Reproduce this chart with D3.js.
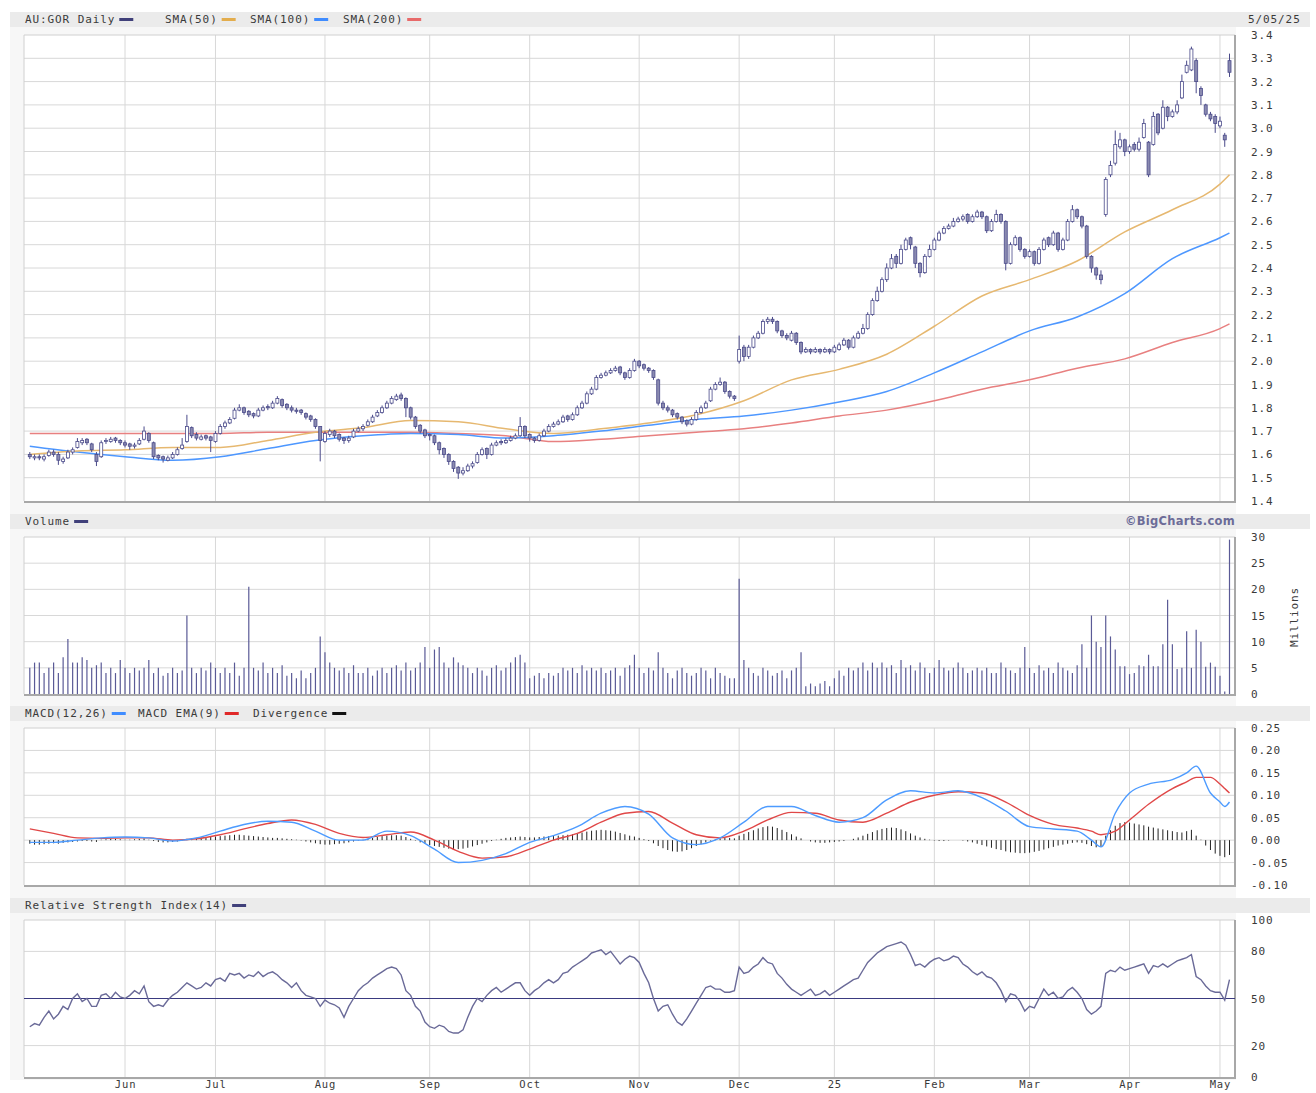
<!DOCTYPE html>
<html lang="en">
<head>
<meta charset="UTF-8">
<title>AU:GOR Daily</title>
<script src="https://d3js.org/d3.v7.min.js"></script>
<style>
  body { margin: 0; background: #fff; }
  text { font-family: "DejaVu Sans Mono", monospace; font-size: 11px; fill: #3a3a3a; letter-spacing: 0.9px; }
</style>
</head>
<body>
<svg width="1316" height="1093" id="mainsvg"></svg>
<script>
// ---- data (one value per ASX trading day, 6 May 2024 .. 5 May 2025) ----
const opens = [
  1.60,1.585,1.59,1.58,1.595,1.61,1.60,1.57,1.585,1.61,
  1.63,1.65,1.665,1.645,1.60,1.59,1.655,1.655,1.67,1.66,
  1.65,1.645,1.635,1.645,1.665,1.69,1.65,1.595,1.59,1.575,
  1.585,1.60,1.625,1.655,1.715,1.685,1.665,1.68,1.675,1.655,
  1.69,1.72,1.735,1.755,1.79,1.80,1.785,1.775,1.765,1.79,
  1.805,1.80,1.82,1.835,1.815,1.80,1.79,1.79,1.775,1.765,
  1.75,1.72,1.655,1.685,1.70,1.685,1.67,1.66,1.675,1.70,
  1.71,1.725,1.74,1.765,1.78,1.80,1.82,1.835,1.855,1.84,
  1.80,1.76,1.725,1.705,1.685,1.68,1.65,1.625,1.60,1.57,
  1.545,1.52,1.53,1.55,1.565,1.60,1.625,1.60,1.64,1.655,
  1.65,1.66,1.67,1.68,1.72,1.685,1.67,1.66,1.68,1.70,
  1.72,1.73,1.74,1.765,1.75,1.77,1.80,1.82,1.86,1.88,
  1.93,1.94,1.95,1.96,1.975,1.95,1.93,1.96,2.00,1.985,
  1.97,1.96,1.92,1.82,1.80,1.79,1.775,1.76,1.745,1.73,
  1.75,1.78,1.80,1.83,1.88,1.90,1.91,1.87,1.85,2.00,
  2.06,2.02,2.06,2.10,2.12,2.17,2.18,2.17,2.13,2.11,
  2.09,2.12,2.08,2.04,2.05,2.04,2.05,2.04,2.05,2.04,
  2.05,2.07,2.09,2.06,2.10,2.12,2.14,2.20,2.26,2.30,
  2.35,2.40,2.45,2.42,2.48,2.53,2.49,2.42,2.38,2.45,
  2.48,2.52,2.55,2.57,2.58,2.60,2.61,2.63,2.60,2.62,
  2.64,2.62,2.56,2.60,2.63,2.60,2.42,2.50,2.53,2.48,
  2.45,2.47,2.42,2.48,2.53,2.50,2.55,2.48,2.52,2.60,
  2.65,2.62,2.58,2.45,2.40,2.37,2.63,2.80,2.85,2.92,
  2.95,2.90,2.93,2.91,2.96,2.94,2.93,3.06,3.00,3.09,
  3.05,3.07,3.13,3.24,3.25,3.29,3.17,3.10,3.06,3.05,
  3.01,2.97,3.29
]
const highs = [
  1.61,1.60,1.60,1.60,1.62,1.62,1.61,1.59,1.62,1.63,
  1.67,1.67,1.67,1.65,1.61,1.66,1.67,1.675,1.675,1.665,
  1.66,1.65,1.65,1.67,1.72,1.695,1.655,1.60,1.595,1.595,
  1.61,1.63,1.67,1.77,1.72,1.695,1.685,1.685,1.68,1.70,
  1.73,1.745,1.76,1.80,1.815,1.805,1.79,1.78,1.80,1.81,
  1.815,1.83,1.85,1.84,1.82,1.81,1.80,1.795,1.78,1.77,
  1.755,1.72,1.70,1.71,1.705,1.69,1.675,1.68,1.71,1.72,
  1.73,1.75,1.77,1.79,1.81,1.83,1.85,1.86,1.865,1.845,
  1.805,1.765,1.73,1.71,1.69,1.685,1.655,1.63,1.605,1.575,
  1.55,1.545,1.56,1.57,1.61,1.63,1.63,1.65,1.66,1.665,
  1.67,1.68,1.69,1.76,1.725,1.69,1.675,1.69,1.71,1.73,
  1.74,1.75,1.77,1.77,1.78,1.81,1.83,1.87,1.89,1.94,
  1.95,1.96,1.97,1.98,1.98,1.955,1.97,2.01,2.005,1.99,
  1.975,1.965,1.925,1.83,1.81,1.795,1.78,1.765,1.75,1.76,
  1.79,1.81,1.83,1.89,1.91,1.93,1.915,1.875,1.855,2.11,
  2.07,2.07,2.11,2.13,2.18,2.19,2.19,2.175,2.135,2.12,
  2.13,2.125,2.085,2.06,2.055,2.06,2.055,2.06,2.055,2.07,
  2.08,2.10,2.095,2.11,2.13,2.16,2.21,2.27,2.32,2.36,
  2.42,2.46,2.46,2.50,2.53,2.535,2.495,2.425,2.46,2.50,
  2.53,2.56,2.58,2.59,2.615,2.62,2.63,2.635,2.63,2.65,
  2.645,2.625,2.61,2.65,2.635,2.605,2.51,2.54,2.535,2.485,
  2.48,2.475,2.49,2.53,2.535,2.56,2.555,2.53,2.61,2.67,
  2.655,2.625,2.585,2.455,2.405,2.39,2.79,2.86,2.99,2.98,
  2.955,2.93,2.94,2.96,3.04,2.945,3.07,3.065,3.12,3.095,
  3.08,3.12,3.23,3.29,3.35,3.30,3.18,3.105,3.07,3.06,
  3.05,2.98,3.32
]
const lows = [
  1.58,1.575,1.575,1.57,1.59,1.59,1.555,1.56,1.58,1.60,
  1.625,1.64,1.64,1.61,1.55,1.585,1.645,1.65,1.65,1.64,
  1.63,1.62,1.625,1.64,1.66,1.65,1.58,1.575,1.565,1.57,
  1.58,1.595,1.62,1.65,1.67,1.66,1.66,1.66,1.61,1.65,
  1.685,1.71,1.73,1.75,1.785,1.77,1.76,1.755,1.76,1.785,
  1.79,1.795,1.815,1.80,1.79,1.78,1.775,1.77,1.75,1.74,
  1.71,1.57,1.65,1.675,1.67,1.655,1.645,1.65,1.67,1.695,
  1.70,1.72,1.735,1.76,1.775,1.795,1.815,1.83,1.83,1.76,
  1.75,1.71,1.69,1.67,1.66,1.64,1.60,1.585,1.555,1.525,
  1.495,1.51,1.525,1.54,1.56,1.595,1.58,1.595,1.635,1.64,
  1.645,1.655,1.665,1.675,1.67,1.655,1.65,1.655,1.675,1.695,
  1.715,1.725,1.735,1.74,1.745,1.765,1.795,1.815,1.855,1.875,
  1.925,1.935,1.945,1.955,1.94,1.92,1.925,1.955,1.97,1.96,
  1.95,1.92,1.81,1.79,1.78,1.76,1.75,1.73,1.72,1.725,
  1.745,1.775,1.795,1.825,1.875,1.895,1.86,1.84,1.83,1.99,
  2.00,2.01,2.055,2.095,2.115,2.16,2.16,2.12,2.10,2.09,
  2.085,2.07,2.03,2.035,2.03,2.035,2.03,2.035,2.03,2.035,
  2.045,2.065,2.05,2.055,2.095,2.115,2.135,2.195,2.255,2.295,
  2.34,2.395,2.40,2.415,2.475,2.48,2.40,2.36,2.375,2.445,
  2.475,2.515,2.545,2.565,2.575,2.595,2.60,2.59,2.595,2.615,
  2.61,2.55,2.555,2.595,2.59,2.39,2.415,2.495,2.47,2.44,
  2.445,2.41,2.415,2.475,2.49,2.495,2.47,2.475,2.515,2.595,
  2.61,2.57,2.44,2.38,2.35,2.33,2.62,2.79,2.84,2.91,
  2.88,2.89,2.90,2.90,2.955,2.79,2.925,2.97,2.995,3.03,
  3.045,3.06,3.125,3.235,3.245,3.15,3.10,3.05,3.03,2.98,
  3.00,2.92,3.22
]
const closes = [
  1.59,1.59,1.585,1.59,1.61,1.60,1.575,1.58,1.61,1.62,
  1.655,1.66,1.65,1.62,1.57,1.65,1.66,1.665,1.66,1.65,
  1.64,1.635,1.64,1.66,1.70,1.66,1.59,1.585,1.58,1.585,
  1.60,1.62,1.64,1.72,1.68,1.67,1.675,1.67,1.66,1.69,
  1.72,1.735,1.75,1.79,1.80,1.78,1.77,1.765,1.79,1.80,
  1.80,1.82,1.84,1.81,1.80,1.79,1.785,1.78,1.76,1.75,
  1.72,1.66,1.69,1.70,1.68,1.665,1.66,1.67,1.70,1.71,
  1.72,1.74,1.76,1.78,1.80,1.82,1.84,1.85,1.84,1.80,
  1.76,1.72,1.70,1.68,1.68,1.65,1.62,1.60,1.57,1.54,
  1.52,1.53,1.55,1.56,1.60,1.62,1.60,1.64,1.65,1.65,
  1.66,1.67,1.68,1.72,1.68,1.67,1.66,1.68,1.70,1.72,
  1.73,1.74,1.76,1.75,1.77,1.80,1.82,1.86,1.88,1.93,
  1.94,1.95,1.96,1.97,1.95,1.93,1.96,2.00,1.98,1.97,
  1.96,1.93,1.82,1.80,1.79,1.77,1.76,1.74,1.73,1.75,
  1.78,1.80,1.82,1.88,1.90,1.91,1.87,1.85,1.84,2.05,
  2.02,2.06,2.10,2.12,2.17,2.18,2.17,2.13,2.11,2.10,
  2.12,2.08,2.04,2.05,2.04,2.05,2.04,2.05,2.04,2.06,
  2.07,2.09,2.06,2.10,2.12,2.14,2.20,2.26,2.30,2.35,
  2.40,2.44,2.42,2.48,2.52,2.50,2.42,2.38,2.45,2.48,
  2.52,2.55,2.57,2.58,2.60,2.61,2.62,2.60,2.62,2.64,
  2.62,2.56,2.60,2.63,2.60,2.42,2.50,2.53,2.48,2.45,
  2.47,2.42,2.48,2.52,2.50,2.55,2.48,2.52,2.60,2.65,
  2.62,2.58,2.45,2.40,2.37,2.35,2.78,2.84,2.93,2.95,
  2.90,2.92,2.91,2.94,3.02,2.80,3.05,2.98,3.09,3.05,
  3.07,3.10,3.20,3.27,3.34,3.20,3.14,3.06,3.04,3.02,
  3.03,2.95,3.24
]
// volume, millions
const volumes = [
  5,6,6,4,5,6,4,7,10.5,6,
  6,7,6.5,5,5.5,6,4,5,4,6.5,
  5,4,5,4.5,5,6.5,4,5,3.5,4,
  5,4,4.5,15,5,4,5,4.5,6,5,
  4,5,4,6,3.5,5,20.5,5,4.5,6,
  4,5,4,5.5,3.5,4,3,4.5,3,4,
  5,11,8,6,5,4.5,5,4,5.5,4,
  4,5,3.5,4.5,5,4,5,5.5,4.5,6,
  4.5,5,6,9,5,8.5,9,6,5,7,
  6,5.5,5,4,5,4.5,3.5,5,5.5,4.5,
  5,6,7,7.5,6,3,3.5,4,3,4,
  3.5,4,5,4.5,5,4,5.5,4.5,5,4.5,
  5,4,4.5,5,3.5,5,5.5,7.5,5,4,
  5,4.5,8,5,4,3,4.5,5,4,3.5,
  4,5,4.5,3,5,4,3.5,3,3,22,
  6.5,5,4,3.5,5,4.5,3.5,4,4.5,3,
  4.5,5,8,1.5,2,1.5,2,2.5,1.5,3,
  4.5,3.5,5,4.5,5,6,4.5,6,5,6,
  5,5.5,4,6.5,5,5.5,4.5,6,5,4,
  5,6.5,5,4.5,5,6,5,4,4.5,5,
  4.5,5,4,4,6,5,4.5,4,5,9,
  5,4,5.5,4.5,5,4,6,5,4.5,4,
  5.5,9.5,5,15,10,9,15,11,8.5,5.3,
  5.3,3.8,4,5.5,5.3,7.5,5.3,5.3,9.5,18,
  9.5,4.8,5,12,5,12.3,10,5.2,6,5.2,
  3.5,0.5,29.5
]
// MACD divergence histogram
const divergence = [
  -0.008,-0.01,-0.01,-0.009,-0.008,-0.007,-0.008,-0.006,-0.005,-0.004,
  -0.003,-0.002,-0.002,-0.003,-0.004,0.001,0.002,0.003,0.003,0.002,
  0.001,0.001,0.002,0.003,0.004,0.001,-0.002,-0.004,-0.005,-0.005,
  -0.004,-0.003,-0.001,0.003,0.004,0.005,0.006,0.007,0.007,0.008,
  0.009,0.010,0.011,0.012,0.012,0.011,0.010,0.009,0.008,0.007,
  0.006,0.005,0.005,0.004,0.003,0.002,0.001,-0.001,-0.003,-0.005,
  -0.007,-0.009,-0.010,-0.010,-0.009,-0.008,-0.007,-0.005,-0.003,-0.001,
  0.001,0.003,0.005,0.007,0.009,0.010,0.011,0.011,0.010,0.007,
  0.003,-0.001,-0.005,-0.008,-0.011,-0.013,-0.015,-0.017,-0.019,-0.020,
  -0.020,-0.019,-0.017,-0.014,-0.011,-0.008,-0.005,-0.002,0.001,0.003,
  0.005,0.006,0.007,0.008,0.007,0.006,0.006,0.007,0.008,0.009,
  0.010,0.010,0.011,0.012,0.013,0.015,0.017,0.019,0.021,0.022,
  0.023,0.022,0.021,0.019,0.016,0.013,0.010,0.008,0.005,0.002,
  -0.002,-0.007,-0.013,-0.018,-0.022,-0.025,-0.026,-0.025,-0.022,-0.018,
  -0.013,-0.009,-0.005,-0.001,0.002,0.004,0.005,0.005,0.004,0.010,
  0.014,0.018,0.022,0.026,0.029,0.031,0.030,0.027,0.023,0.018,
  0.013,0.008,0.004,0.000,-0.003,-0.005,-0.006,-0.006,-0.005,-0.004,
  -0.003,-0.002,0.000,0.003,0.006,0.010,0.014,0.018,0.022,0.025,
  0.027,0.028,0.027,0.024,0.020,0.015,0.010,0.006,0.003,0.001,
  -0.001,-0.002,-0.002,-0.001,0.000,0.000,-0.001,-0.003,-0.005,-0.008,
  -0.011,-0.014,-0.017,-0.020,-0.022,-0.025,-0.027,-0.028,-0.029,-0.029,
  -0.028,-0.026,-0.024,-0.021,-0.018,-0.015,-0.012,-0.010,-0.008,-0.006,
  -0.005,-0.006,-0.009,-0.013,-0.016,-0.015,0.010,0.022,0.032,0.038,
  0.040,0.039,0.037,0.035,0.033,0.030,0.028,0.026,0.024,0.022,
  0.020,0.018,0.017,0.020,0.023,0.010,0.001,-0.012,-0.022,-0.030,
  -0.035,-0.038,-0.033
]
const rsi = [
  32,34,33,38,42,37,40,45,43,50,
  53,48,50,45,45,52,53,50,54,51,
  50,52,55,53,58,48,45,46,45,49,
  52,54,57,60,58,56,57,60,58,62,
  63,61,66,65,66,63,65,64,67,64,
  66,67,65,62,60,57,60,55,52,51,
  50,45,49,47,46,44,38,45,50,55,
  58,60,63,65,67,69,70,69,65,55,
  52,45,42,35,32,31,33,32,29,28,
  28,30,38,45,50,48,52,55,57,54,
  56,58,60,60,55,52,55,57,60,62,
  60,62,66,67,70,72,74,76,79,80,
  81,78,80,76,72,75,77,76,73,66,
  60,50,42,45,46,40,35,33,37,42,
  47,52,57,58,56,56,54,54,55,70,
  66,67,70,72,76,73,72,66,63,59,
  56,54,52,54,56,52,53,55,52,54,
  56,58,60,62,63,68,73,76,79,81,
  83,84,85,86,84,78,71,72,70,73,
  75,76,74,75,77,76,72,70,67,65,
  67,64,63,60,55,48,53,52,48,42,
  45,44,50,56,52,54,50,51,55,57,
  54,50,43,40,42,45,66,68,67,70,
  68,69,70,71,72,66,71,70,72,70,
  72,74,75,76,78,64,62,58,55,54,
  54,49,62
]

// moving averages, read every 10 trading days
const smaDays = [0,10,20,30,40,50,60,70,80,90,100,110,120,130,140,150,160,170,180,190,200,210,220,230,240,250,252]
const sma50  = [1.60,1.615,1.62,1.63,1.63,1.66,1.695,1.715,1.745,1.74,1.71,1.69,1.71,1.735,1.77,1.83,1.92,1.965,2.03,2.15,2.28,2.35,2.43,2.555,2.65,2.76,2.80]
const sma100 = [1.635,1.61,1.59,1.575,1.59,1.625,1.66,1.68,1.69,1.685,1.67,1.68,1.70,1.725,1.75,1.765,1.79,1.825,1.87,1.95,2.04,2.13,2.19,2.29,2.44,2.53,2.55]
const sma200 = [1.69,1.69,1.69,1.69,1.69,1.695,1.695,1.695,1.695,1.69,1.68,1.655,1.665,1.68,1.695,1.71,1.735,1.765,1.79,1.83,1.88,1.92,1.97,2.01,2.08,2.14,2.16]

// MACD line and its EMA(9)
const macdDays = [0,5,10,15,20,25,30,35,40,45,50,55,60,65,70,75,80,85,90,95,100,105,110,115,120,125,130,135,140,145,150,155,160,165,170,175,180,185,190,195,200,205,210,215,220,223,225,228,231,235,240,243,245,248,250,251,252]
const macdLine = [-0.005,-0.005,0.0,0.005,0.007,0.005,-0.002,0.005,0.02,0.035,0.042,0.04,0.02,0.0,0.0,0.02,0.01,-0.02,-0.05,-0.045,-0.03,-0.005,0.01,0.03,0.06,0.075,0.058,0.005,-0.01,0.005,0.04,0.075,0.075,0.055,0.04,0.05,0.09,0.11,0.105,0.11,0.095,0.065,0.03,0.025,0.02,0.0,-0.015,0.06,0.105,0.125,0.135,0.15,0.165,0.105,0.085,0.075,0.085]
const macdSignal = [0.025,0.015,0.005,0.004,0.005,0.005,0.0,0.003,0.012,0.025,0.037,0.045,0.035,0.015,0.006,0.012,0.018,0.0,-0.025,-0.04,-0.037,-0.02,0.0,0.015,0.04,0.06,0.064,0.038,0.012,0.005,0.02,0.045,0.062,0.06,0.045,0.04,0.06,0.085,0.10,0.108,0.105,0.085,0.055,0.035,0.027,0.02,0.012,0.02,0.045,0.08,0.115,0.13,0.14,0.14,0.125,0.115,0.105]

// axis ticks
const monthDays = [20,39,62,84,105,128,149,169,190,210,231,250]
const monthLabels = ['Jun','Jul','Aug','Sep','Oct','Nov','Dec','25','Feb','Mar','Apr','May']
const priceTicks = [1.4,1.5,1.6,1.7,1.8,1.9,2.0,2.1,2.2,2.3,2.4,2.5,2.6,2.7,2.8,2.9,3.0,3.1,3.2,3.3,3.4]
const volTicks = [0,5,10,15,20,25,30]
const macdTicks = [-0.10,-0.05,0,0.05,0.10,0.15,0.20,0.25]
const rsiTicks = [0,20,50,80,100]

// ---- layout ----
const svg = d3.select("#mainsvg")
const plotL = 24, plotR = 1235
const navy = '#4a4a8a'
const x = d3.scaleLinear().domain([0, closes.length - 1]).range([29.8, 1229.5])

svg.append('rect').attr('x', 10).attr('y', 27).attr('width', plotR - 10 + 1).attr('height', 1053).attr('fill', '#f7f7f7')

function panel(top, bottom, head, domain, ticks, fmt) {
    const y = d3.scaleLinear().domain(domain).range([bottom, top])
    svg.append('rect').attr('x', 10).attr('y', head).attr('width', 1300).attr('height', 15).attr('fill', '#ebebeb')
    svg.append('rect').attr('x', plotL).attr('y', top).attr('width', plotR - plotL).attr('height', bottom - top).attr('fill', '#fff')
    const g = svg.append('g')
    g.selectAll('.hg').data(ticks.slice(1, -1)).join('line')
        .attr('x1', plotL).attr('x2', plotR).attr('y1', d => y(d)).attr('y2', d => y(d))
        .attr('stroke', '#d8d8d8').attr('stroke-width', 1)
    g.selectAll('.vg').data(monthDays).join('line')
        .attr('x1', d => x(d)).attr('x2', d => x(d)).attr('y1', top).attr('y2', bottom)
        .attr('stroke', '#d8d8d8').attr('stroke-width', 1)
    // frame: light left/top, darker bottom/right
    g.append('line').attr('x1', plotL).attr('x2', plotL).attr('y1', top).attr('y2', bottom).attr('stroke', '#d0d0d0')
    g.append('line').attr('x1', plotL).attr('x2', plotR).attr('y1', top).attr('y2', top).attr('stroke', '#d0d0d0')
    g.append('line').attr('x1', plotL).attr('x2', plotR + 1).attr('y1', bottom + 1).attr('y2', bottom + 1).attr('stroke', '#a8a8a8').attr('stroke-width', 2)
    g.append('line').attr('x1', plotR).attr('x2', plotR).attr('y1', top).attr('y2', bottom + 2).attr('stroke', '#a8a8a8').attr('stroke-width', 2)
    svg.append('g').attr('transform', 'translate(1251,0)')
        .call(d3.axisRight(y).tickValues(ticks).tickFormat(fmt).tickSize(0).tickPadding(0))
        .call(a => a.select('.domain').remove())
    return y
}

function legend(head, items) {
    items.forEach(it => {
        const t = svg.append('text').attr('x', it.x).attr('y', head + 11).text(it.t)
        const w = t.node().getComputedTextLength()
        svg.append('rect').attr('x', it.x + w + 4).attr('y', head + 6).attr('width', 14).attr('height', 3).attr('fill', it.c)
    })
}

// ---- price panel ----
const yP = panel(35, 501, 12, [1.4, 3.4], priceTicks, d => d.toFixed(1))
legend(12, [
    {t: 'AU:GOR Daily', c: '#40407a', x: 25},
    {t: 'SMA(50)', c: '#e3ad4d', x: 165},
    {t: 'SMA(100)', c: '#3f8cff', x: 250},
    {t: 'SMA(200)', c: '#e86a6a', x: 343}
])
svg.append('text').attr('x', 1248).attr('y', 23).text('5/05/25')

const smaLine = vals => d3.line().x((d, i) => x(smaDays[i])).y(d => yP(d)).curve(d3.curveMonotoneX)(vals)
svg.append('path').attr('d', smaLine(sma200)).attr('fill', 'none').attr('stroke', '#e88080').attr('stroke-width', 1.5)
svg.append('path').attr('d', smaLine(sma100)).attr('fill', 'none').attr('stroke', '#4d97ff').attr('stroke-width', 1.5)
svg.append('path').attr('d', smaLine(sma50)).attr('fill', 'none').attr('stroke', '#e6b870').attr('stroke-width', 1.5)

const candles = svg.append('g')
const days = d3.range(closes.length)
candles.selectAll('.wick').data(days).join('line')
    .attr('x1', i => x(i)).attr('x2', i => x(i))
    .attr('y1', i => yP(highs[i])).attr('y2', i => yP(lows[i]))
    .attr('stroke', navy).attr('stroke-width', 1)
candles.selectAll('.body').data(days).join('rect')
    .attr('x', i => x(i) - 1.5).attr('width', 3)
    .attr('y', i => yP(Math.max(opens[i], closes[i])))
    .attr('height', i => Math.max(1, Math.abs(yP(opens[i]) - yP(closes[i]))))
    .attr('fill', i => closes[i] > opens[i] ? '#fff' : '#8a8ab0')
    .attr('stroke', navy).attr('stroke-width', 0.8)

// ---- volume panel ----
const yV = panel(537, 694, 514, [0, 30], volTicks, d => d)
legend(514, [{t: 'Volume', c: '#40407a', x: 25}])
svg.append('text').attr('x', 1235).attr('y', 525).attr('text-anchor', 'end')
    .style('font-family', '"DejaVu Sans", sans-serif').style('font-weight', 'bold').style('font-size', '11.5px')
    .style('fill', '#6c6c98').style('letter-spacing', '0.3px').text('©BigCharts.com')
svg.append('text').attr('transform', 'translate(1298,617) rotate(-90)').attr('text-anchor', 'middle').text('Millions')
svg.append('g').selectAll('line').data(days).join('line')
    .attr('x1', i => x(i)).attr('x2', i => x(i))
    .attr('y1', yV(0)).attr('y2', i => yV(volumes[i]))
    .attr('stroke', '#5a5a96').attr('stroke-width', 1.2)

// ---- MACD panel ----
const yM = panel(728, 885, 706, [-0.1, 0.25], macdTicks, d => d.toFixed(2))
legend(706, [
    {t: 'MACD(12,26)', c: '#3f8cff', x: 25},
    {t: 'MACD EMA(9)', c: '#e02828', x: 138},
    {t: 'Divergence', c: '#111', x: 253}
])
svg.append('g').selectAll('line').data(days).join('line')
    .attr('x1', i => x(i)).attr('x2', i => x(i))
    .attr('y1', yM(0)).attr('y2', i => yM(divergence[i]))
    .attr('stroke', '#222').attr('stroke-width', 1)
const macdPath = vals => d3.line().x((d, i) => x(macdDays[i])).y(d => yM(d)).curve(d3.curveMonotoneX)(vals)
svg.append('path').attr('d', macdPath(macdSignal)).attr('fill', 'none').attr('stroke', '#e04848').attr('stroke-width', 1.4)
svg.append('path').attr('d', macdPath(macdLine)).attr('fill', 'none').attr('stroke', '#4d9bff').attr('stroke-width', 1.4)

// ---- RSI panel ----
const yR = panel(920, 1077, 898, [0, 100], rsiTicks, d => d)
legend(898, [{t: 'Relative Strength Index(14)', c: '#40407a', x: 25}])
svg.append('line').attr('x1', plotL).attr('x2', plotR).attr('y1', yR(50)).attr('y2', yR(50))
    .attr('stroke', '#3a3a80').attr('stroke-width', 1)
svg.append('path').datum(rsi)
    .attr('d', d3.line().x((d, i) => x(i)).y(d => yR(d)))
    .attr('fill', 'none').attr('stroke', '#6a6a98').attr('stroke-width', 1.4)

// ---- month axis ----
svg.append('g').attr('transform', 'translate(0,1078)')
    .call(d3.axisBottom(x).tickValues(monthDays).tickFormat((d, i) => monthLabels[i]).tickSize(0).tickPadding(3))
    .call(a => a.select('.domain').remove())
    .call(a => a.selectAll('text').style('font-size', '10.5px'))
</script>
</body>
</html>
